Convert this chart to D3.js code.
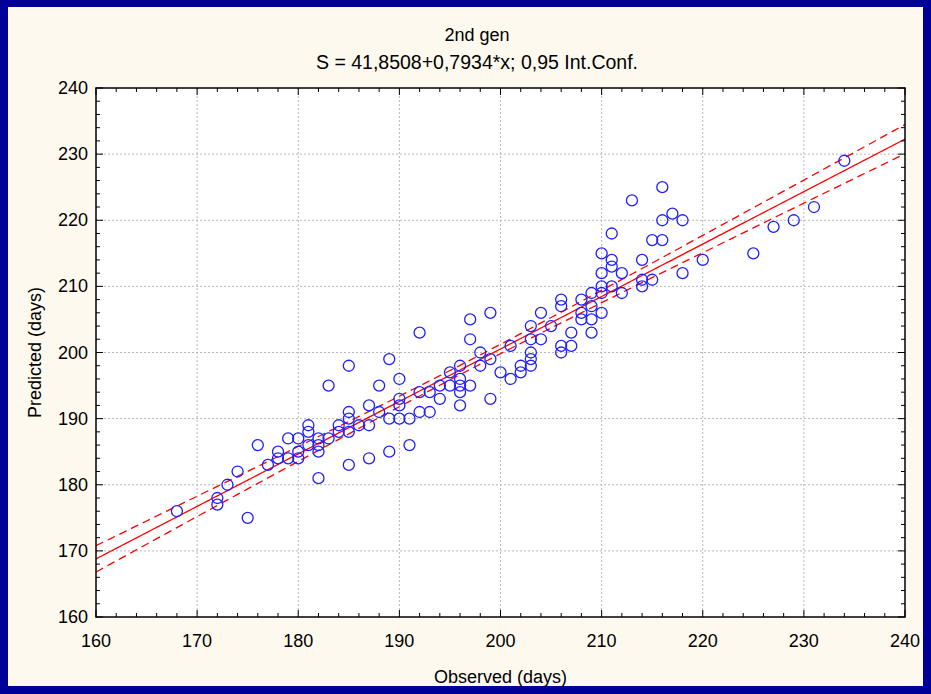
<!DOCTYPE html>
<html>
<head>
<meta charset="utf-8">
<script src="https://cdn.jsdelivr.net/npm/d3@7"></script>
<style>
  html, body { margin: 0; padding: 0; background: #000099; }
  svg { display: block; font-family: "Liberation Sans", Arial, sans-serif; }
  .tick-label { font-size: 18px; fill: #000; }
  .title { font-size: 18px; fill: #000; }
</style>
</head>
<body>
<svg id="chart"></svg>
<script>
// observed days (x) and predicted days (y)
const observed = [
  168, 172, 172, 173, 174, 175, 176, 177, 178, 178,
  179, 179, 180, 180, 180, 181, 181, 181, 182, 182,
  182, 182, 183, 183, 184, 184, 185, 185, 185, 185,
  185, 186, 187, 187, 187, 188, 188, 189, 189, 189,
  190, 190, 190, 190, 191, 191, 192, 192, 192, 193,
  193, 194, 194, 195, 195, 196, 196, 196, 196, 196,
  197, 197, 197, 198, 198, 199, 199, 199, 200, 201,
  201, 202, 202, 203, 203, 203, 203, 203, 204, 204,
  205, 206, 206, 206, 206, 207, 207, 208, 208, 208,
  209, 209, 209, 209, 210, 210, 210, 210, 210, 211,
  211, 211, 211, 212, 212, 213, 214, 214, 214, 215,
  215, 216, 216, 216, 217, 218, 218, 220, 225, 227,
  229, 231, 234
];
const predicted = [
  176, 178, 177, 180, 182, 175, 186, 183, 185, 184,
  187, 184, 187, 185, 184, 189, 188, 186, 187, 186,
  185, 181, 195, 187, 188, 189, 198, 191, 190, 188,
  183, 189, 192, 189, 184, 195, 191, 199, 190, 185,
  196, 193, 192, 190, 190, 186, 203, 194, 191, 194,
  191, 195, 193, 197, 195, 198, 196, 195, 194, 192,
  205, 202, 195, 200, 198, 206, 199, 193, 197, 201,
  196, 198, 197, 204, 202, 200, 199, 198, 206, 202,
  204, 208, 207, 201, 200, 203, 201, 208, 206, 205,
  209, 207, 205, 203, 215, 212, 210, 209, 206, 218,
  214, 213, 210, 212, 209, 223, 214, 211, 210, 217,
  211, 225, 220, 217, 221, 220, 212, 214, 215, 219,
  220, 222, 229
];
const points = observed.map((x, i) => ({x, y: predicted[i]}));

const intercept = 41.8508;
const slope = 0.7934;
const xTicks = [160, 170, 180, 190, 200, 210, 220, 230, 240];
const yTicks = [160, 170, 180, 190, 200, 210, 220, 230, 240];
const title = '2nd gen';
const subtitle = 'S = 41,8508+0,7934*x; 0,95 Int.Conf.';
const xTitle = 'Observed (days)';
const yTitle = 'Predicted (days)';

const W = 931, H = 694;
const margin = {top: 88, right: 26, bottom: 77, left: 96};
const width = W - margin.left - margin.right;
const height = H - margin.top - margin.bottom;

const svg = d3.select('#chart').attr('width', W).attr('height', H);

// blue border and cream panel
svg.append('rect').attr('width', W).attr('height', H).attr('fill', '#000099');
svg.append('rect')
  .attr('x', 8).attr('y', 7)
  .attr('width', W - 16).attr('height', H - 15)
  .attr('fill', '#fef9ee');

const g = svg.append('g').attr('transform', `translate(${margin.left},${margin.top})`);

g.append('rect').attr('width', width).attr('height', height).attr('fill', '#fff');

const xScale = d3.scaleLinear().domain([160, 240]).range([0, width]);
const yScale = d3.scaleLinear().domain([160, 240]).range([height, 0]);

// grid
g.append('g').selectAll('line')
  .data(xTicks.slice(1, -1))
  .join('line')
  .attr('x1', d => xScale(d)).attr('x2', d => xScale(d))
  .attr('y1', 0).attr('y2', height)
  .attr('stroke', '#b8b8b8').attr('stroke-dasharray', '2,2');
g.append('g').selectAll('line')
  .data(yTicks.slice(1, -1))
  .join('line')
  .attr('y1', d => yScale(d)).attr('y2', d => yScale(d))
  .attr('x1', 0).attr('x2', width)
  .attr('stroke', '#b8b8b8').attr('stroke-dasharray', '2,2');

// regression line and 95% confidence band
const n = points.length;
const mx = d3.mean(observed);
const sxx = d3.sum(observed, x => (x - mx) ** 2);
const sse = d3.sum(points, p => (p.y - (intercept + slope * p.x)) ** 2);
const s = Math.sqrt(sse / (n - 2));
const t = 1.98;
const xs = d3.range(160, 240.01, 0.5);
const fit = xs.map(x => ({x, y: intercept + slope * x}));
const band = k => xs.map(x => ({
  x,
  y: intercept + slope * x + k * t * s * Math.sqrt(1 / n + (x - mx) ** 2 / sxx)
}));

const line = d3.line().x(d => xScale(d.x)).y(d => yScale(d.y));
const curves = g.append('g').attr('fill', 'none').attr('stroke', '#ff0000').attr('stroke-width', 1.3);
curves.append('path').attr('d', line(fit));
curves.append('path').attr('d', line(band(1))).attr('stroke-dasharray', '8,5');
curves.append('path').attr('d', line(band(-1))).attr('stroke-dasharray', '8,5');

// points
g.append('g').selectAll('circle')
  .data(points)
  .join('circle')
  .attr('cx', d => xScale(d.x))
  .attr('cy', d => yScale(d.y))
  .attr('r', 5.5)
  .attr('fill', 'none')
  .attr('stroke', '#1f1fff')
  .attr('stroke-width', 1.3);

// ticks pointing inward on all four sides
const minor = d3.range(160, 240.01, 2);
const frame = g.append('g').attr('stroke', '#000');
frame.append('g').selectAll('line').data(minor).join('line')
  .attr('x1', d => xScale(d)).attr('x2', d => xScale(d))
  .attr('y1', height).attr('y2', d => height - (d % 10 === 0 ? 7 : 4));
frame.append('g').selectAll('line').data(minor).join('line')
  .attr('x1', d => xScale(d)).attr('x2', d => xScale(d))
  .attr('y1', 0).attr('y2', d => (d % 10 === 0 ? 7 : 4));
frame.append('g').selectAll('line').data(minor).join('line')
  .attr('y1', d => yScale(d)).attr('y2', d => yScale(d))
  .attr('x1', 0).attr('x2', d => (d % 10 === 0 ? 7 : 4));
frame.append('g').selectAll('line').data(minor).join('line')
  .attr('y1', d => yScale(d)).attr('y2', d => yScale(d))
  .attr('x1', width).attr('x2', d => width - (d % 10 === 0 ? 7 : 4));
g.append('rect').attr('width', width).attr('height', height)
  .attr('fill', 'none').attr('stroke', '#000').attr('stroke-width', 1.5);

// tick labels
g.append('g').selectAll('text').data(xTicks).join('text')
  .attr('class', 'tick-label')
  .attr('x', d => xScale(d)).attr('y', height + 30)
  .attr('text-anchor', 'middle')
  .text(d => d);
g.append('g').selectAll('text').data(yTicks).join('text')
  .attr('class', 'tick-label')
  .attr('x', -8).attr('y', d => yScale(d) + 6)
  .attr('text-anchor', 'end')
  .text(d => d);

// titles
svg.append('text').attr('class', 'title')
  .attr('x', 477).attr('y', 41)
  .attr('text-anchor', 'middle').text(title);
svg.append('text').attr('class', 'title')
  .attr('x', 477).attr('y', 69)
  .style('font-size', '19.5px')
  .attr('text-anchor', 'middle').text(subtitle);
svg.append('text').attr('class', 'title')
  .attr('x', margin.left + width / 2).attr('y', 683)
  .attr('text-anchor', 'middle').text(xTitle);
svg.append('text').attr('class', 'title')
  .attr('transform', `translate(41,${margin.top + height / 2}) rotate(-90)`)
  .attr('text-anchor', 'middle').text(yTitle);
</script>
</body>
</html>
